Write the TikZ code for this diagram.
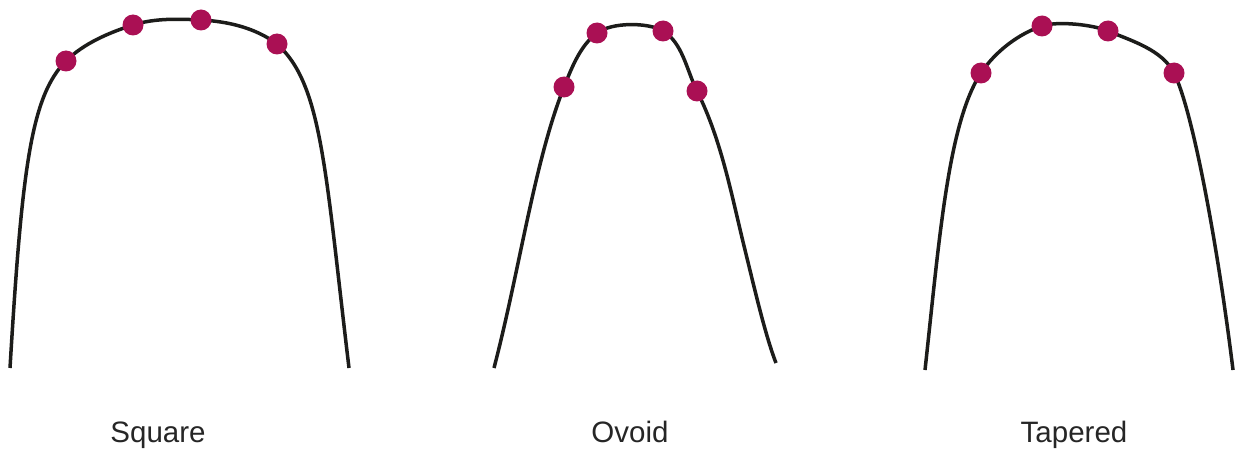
\documentclass[tikz,border=0pt]{standalone}
\usepackage{fontspec}
\setmainfont{Liberation Sans}
\definecolor{dotred}{RGB}{170,16,84}
\definecolor{curveblack}{RGB}{28,28,26}
\tikzset{
  archline/.style={draw=curveblack, line width=1.75pt, line cap=butt},
  pt/.style={circle, fill=dotred, inner sep=0pt, minimum size=10.5pt},
  lbl/.style={anchor=base, font=\fontsize{14.75pt}{17pt}\selectfont, text=black!85}
}
\begin{document}
\begin{tikzpicture}[x=0.5pt,y=-0.5pt]
\useasboundingbox (0,0) rectangle (1236,449);
% Square
\draw[archline] (10,368) .. controls (22,168) and (31,96) .. (66,61)
  .. controls (83.5,43.5) and (109.3,32.5) .. (133,25)
  .. controls (154.8,18.1) and (178,18.85) .. (201,20)
  .. controls (228,21.4) and (255.4,27.8) .. (277,44)
  .. controls (322,84) and (325,168) .. (349,368);
% Ovoid
\draw[archline] (494,368) .. controls (520,268) and (534.4,161.6) .. (564,87)
  .. controls (571.8,67.5) and (580.2,45.6) .. (597,33)
  .. controls (611.4,22.2) and (647.7,22) .. (663,31)
  .. controls (682.5,42.5) and (686.65,70.3) .. (697,91)
  .. controls (721.75,140.5) and (731.8,196.6) .. (745,250)
  .. controls (754.6,288.8) and (765.2,335.1) .. (776,363);
% Tapered
\draw[archline] (925,370) .. controls (939.3,240) and (948,122.8) .. (981,73)
  .. controls (995.3,51.4) and (1018.6,33.8) .. (1042,26)
  .. controls (1057.3,20.9) and (1092.4,24.5) .. (1108,31)
  .. controls (1131.9,40.9) and (1162.3,49.9) .. (1174,73)
  .. controls (1192,108.6) and (1217,240) .. (1233,370);
% dots
\node[pt] (s1) at (66,61) {};
\node[pt] (s2) at (133,25) {};
\node[pt] (s3) at (201,20) {};
\node[pt] (s4) at (277,44) {};
\node[pt] (o1) at (564,87) {};
\node[pt] (o2) at (597,33) {};
\node[pt] (o3) at (663,31) {};
\node[pt] (o4) at (697,91) {};
\node[pt] (t1) at (981,73) {};
\node[pt] (t2) at (1042,26) {};
\node[pt] (t3) at (1108,31) {};
\node[pt] (t4) at (1174,73) {};
% labels
\node[lbl] (ls) at (158,442) {Square};
\node[lbl] (lo) at (630,442) {Ovoid};
\node[lbl] (lt) at (1074,442) {Tapered};
\end{tikzpicture}
\end{document}
